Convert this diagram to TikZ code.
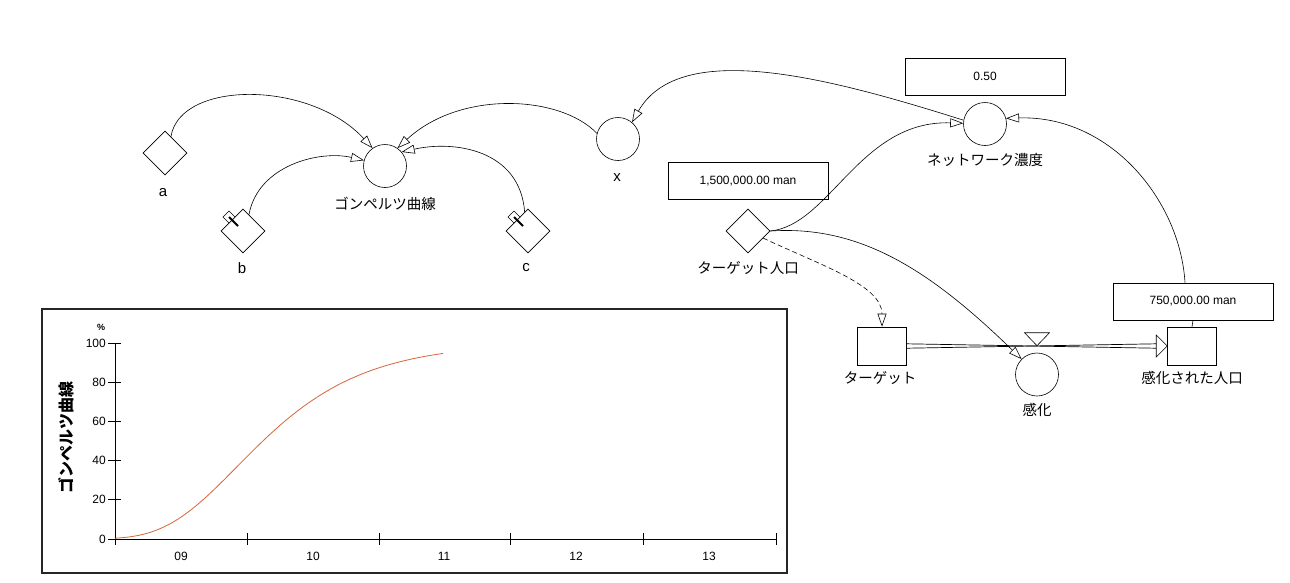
\documentclass[tikz,border=0pt]{standalone}
\usepackage{fontspec}
\setmainfont{Liberation Sans}
\newfontfamily\jp{Noto Sans CJK JP}
\usetikzlibrary{shapes.geometric,arrows.meta}
\definecolor{curvecol}{RGB}{215,100,60}
\begin{document}
\begin{tikzpicture}[x=1pt,y=-1pt,
  conv/.style={draw, diamond, minimum size=44pt, inner sep=0pt, fill=white, line width=0.6pt},
  aux/.style={draw, circle, minimum size=43pt, inner sep=0pt, fill=white, line width=0.6pt},
  stock/.style={draw, rectangle, minimum width=49pt, minimum height=38pt, inner sep=0pt, fill=white, line width=0.6pt},
  valbox/.style={draw, rectangle, minimum width=160pt, minimum height=37pt, inner sep=0pt, fill=white, font=\fontsize{12}{13}\selectfont, line width=0.7pt},
  lbl/.style={font=\fontsize{15}{16}\selectfont, inner sep=0pt},
  jlbl/.style={font=\jp\fontsize{14.5}{16}\selectfont, inner sep=0pt},
  link/.style={draw, line width=0.6pt, -{Triangle[open, length=13pt, width=9pt]}},
  dlink/.style={link, dash pattern=on 5pt off 3pt},
  pipe/.style={line width=0.7pt},
  tick/.style={line width=0.9pt},
  ticklbl/.style={font=\fontsize{12}{13}\selectfont, inner sep=0pt},
]
\fill[white] (0,0) rectangle (1290,582);
\useasboundingbox (0,0) rectangle (1290,582);

% ---- nodes ----
\node[conv] (a) at (165,153) {};
\node[lbl] (la) at (163,193) {a};
\node[conv] (b) at (243,231) {};
\node[lbl] (lb) at (242,268) {b};
\node[conv] (c) at (528,231) {};
\node[lbl] (lc) at (526,268) {c};
\node[aux] (g) at (385,166) {};
\node[jlbl] (lg) at (385,204) {ゴンペルツ曲線};
\node[aux] (x) at (618,139) {};
\node[lbl] (lx) at (617,178) {x};
\node[valbox] (vn) at (985,76.5) {0.50};
\node[aux] (n) at (985,124) {};
\node[jlbl] (ln) at (985,160) {ネットワーク濃度};
\node[valbox] (vt) at (748,181) {1,500,000.00 man};
\node[conv] (t) at (748,231) {};
\node[jlbl] (lt) at (748,268) {ターゲット人口};
\node[stock] (s1) at (882,346) {};
\node[jlbl] (ls1) at (880,378) {ターゲット};
\node[stock] (s2) at (1192,346) {};
\node[jlbl] (ls2) at (1192,378) {感化された人口};
\node[aux] (v) at (1037,374.5) {};
\node[jlbl] (lv) at (1037,410) {感化};
\node[valbox] (vs) at (1193,301.5) {750,000.00 man};

% ---- graphical-function tabs on b and c ----
\foreach \d in {b,c}{
  \draw[fill=white, line width=0.6pt] ([shift={(-8,-14)}]\d.center) -- ([shift={(-14,-20)}]\d.center)
     -- ([shift={(-20,-14)}]\d.center) -- ([shift={(-14,-8)}]\d.center) -- cycle;
  \draw[line width=2pt] ([shift={(-14,-14)}]\d.center) -- ([shift={(-5,-5)}]\d.center);
}

% ---- connectors ----
\draw[link] (a.70) .. controls (180,80) and (310,80) .. (g.125);
\draw[link] (b.70) .. controls (258,165) and (320,150) .. (g.165);
\draw[link] (c.100) .. controls (520,150) and (455,140) .. (g.40);
\draw[link] (x.165) .. controls (560,95) and (460,90) .. (g.55);
\draw[link] (n.170) .. controls (830,78) and (680,38) .. (x.50);
\draw[link] (t.east) .. controls (830,225) and (860,120) .. (n.178);
\draw[link] ([xshift=-8pt]vs.north) .. controls (1180,200) and (1110,115) .. (n.15);
\draw[link] (t.east) .. controls (860,225) and (930,270) .. (v.135);
\draw[dlink] (t.-25) .. controls (820,265) and (882,285) .. (s1.north);
\draw[line width=0.6pt] (vs.south) -- (s2.north);

% ---- flow pipe ----
\draw[pipe] ([yshift=-2.2pt]s1.east) -- ([shift={(-11,-2.2)}]s2.west);
\draw[pipe] ([yshift=2.2pt]s1.east) -- ([shift={(-11,2.2)}]s2.west);
\draw[fill=white, line width=0.6pt] (s2.west) -- ++(-11,-11) -- ++(0,22) -- cycle;
\draw[fill=white, line width=0.6pt] ([shift={(-12.5,-20)}]v.north) -- ([shift={(12.5,-20)}]v.north)
   -- ([shift={(0,-7)}]v.north) -- cycle;

% ---- chart ----
\draw[line width=1.2pt, draw=black!85] (42,309) rectangle (787,573);
\draw[tick] (115,343) -- (115,539) -- (777,539);
\foreach \v in {0,20,40,60,80,100}{
  \draw[tick] (108,{539-1.96*\v}) -- (121,{539-1.96*\v});
  \node[ticklbl, anchor=east] at (106,{539-1.96*\v}) {\v};
}
\foreach \xx in {115,247,379,510,643,776}{
  \draw[tick] (\xx,533) -- (\xx,545);
}
\foreach \xx/\t in {181/09,313/10,444/11,576/12,709/13}{
  \node[ticklbl] at (\xx,556) {\t};
}
\node[font=\bfseries\fontsize{9}{10}\selectfont, inner sep=0pt] at (101,327) {\%};
\node[rotate=90, font=\jp\bfseries\fontsize{16}{16}\selectfont, inner sep=0pt] at (66,437) {ゴンペルツ曲線};
\draw[curvecol, line width=0.8pt] plot[domain=0:328, samples=100, smooth]
  ({115+\x}, {539-196*exp(-5.54*exp(-0.01406*\x))});
\end{tikzpicture}
\end{document}
